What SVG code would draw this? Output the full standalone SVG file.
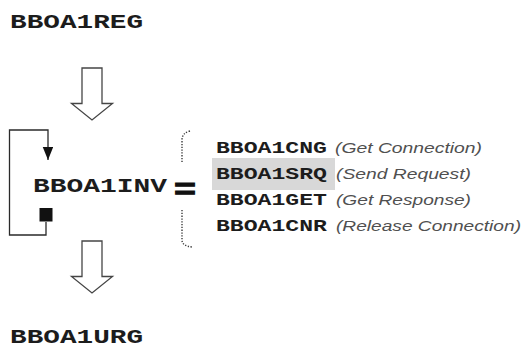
<svg xmlns="http://www.w3.org/2000/svg" width="524" height="348" viewBox="0 0 524 348">
  <style>
    .mod { font-family: "Courier New", "Liberation Mono", monospace; font-weight: bold; fill: #1c1c1c; }
    .big { font-size: 20px; }
    .item { font-size: 17px; }
    .note { font-family: "Liberation Sans", Arial, sans-serif; font-style: italic; font-size: 14px; fill: #505050; }
    .eq { font-family: "Liberation Sans", Arial, sans-serif; font-weight: bold; font-size: 29px; fill: #111; stroke: #111; stroke-width: 0.9; }
    .flow { fill: #fff; stroke: #454545; stroke-width: 1.3; stroke-linejoin: miter; }
    .loop { fill: none; stroke: #2a2a2a; stroke-width: 1.3; }
    .brace { fill: none; stroke: #3a3a3a; stroke-width: 1.4; stroke-dasharray: 1.3 1.5; }
  </style>
  <defs>
    <!-- hollow block arrow, top of shaft at y=0 -->
    <path id="blockArrow" d="M82,0 H102 V35.5 H112.5 L92,52 L71.5,35.5 H82 Z"/>
    <marker id="tipDown" markerUnits="userSpaceOnUse" markerWidth="14" markerHeight="12" refX="13" refY="5.25" orient="auto">
      <path d="M0,0 L13,5.25 L0,10.5 Z" fill="#111"/>
    </marker>
  </defs>

  <rect width="524" height="348" fill="#fff"/>

  <g id="connectors">
    <use href="#blockArrow" class="flow" transform="translate(0,68)"/>
    <use href="#blockArrow" class="flow" transform="translate(0,241)"/>
    <!-- repeat loop around BBOA1INV -->
    <path class="loop" d="M46,222 V235 H9.5 V130 H48 V160" marker-end="url(#tipDown)"/>
    <rect x="39.5" y="208" width="13" height="13.5" fill="#111"/>
  </g>

  <g id="node-reg">
    <text class="mod big" x="10" y="28" textLength="133" lengthAdjust="spacingAndGlyphs">BBOA1REG</text>
  </g>

  <g id="node-inv">
    <text class="mod big" x="33" y="192" textLength="134" lengthAdjust="spacingAndGlyphs">BBOA1INV</text>
    <text class="eq" x="174" y="199" textLength="22" lengthAdjust="spacingAndGlyphs">=</text>
  </g>

  <g id="brace">
    <path class="brace" d="M190,131 Q182,133 182,140 V163"/>
    <path class="brace" d="M182,210 V240 Q182,246 192,247"/>
  </g>

  <g id="node-cng">
    <text class="mod item" x="216" y="153" textLength="111" lengthAdjust="spacingAndGlyphs">BBOA1CNG</text>
    <text class="note" x="335" y="153" textLength="147" lengthAdjust="spacingAndGlyphs">(Get Connection)</text>
  </g>

  <g id="node-srq">
    <rect x="212" y="158" width="123" height="32" fill="#d8d8d8"/>
    <text class="mod item" x="216" y="179" textLength="111" lengthAdjust="spacingAndGlyphs">BBOA1SRQ</text>
    <text class="note" x="336" y="179" textLength="135" lengthAdjust="spacingAndGlyphs">(Send Request)</text>
  </g>

  <g id="node-get">
    <text class="mod item" x="216" y="205" textLength="111" lengthAdjust="spacingAndGlyphs">BBOA1GET</text>
    <text class="note" x="336" y="205" textLength="135" lengthAdjust="spacingAndGlyphs">(Get Response)</text>
  </g>

  <g id="node-cnr">
    <text class="mod item" x="216" y="231" textLength="111" lengthAdjust="spacingAndGlyphs">BBOA1CNR</text>
    <text class="note" x="336" y="231" textLength="185" lengthAdjust="spacingAndGlyphs">(Release Connection)</text>
  </g>

  <g id="node-urg">
    <text class="mod big" x="10" y="343" textLength="133" lengthAdjust="spacingAndGlyphs">BBOA1URG</text>
  </g>
</svg>
